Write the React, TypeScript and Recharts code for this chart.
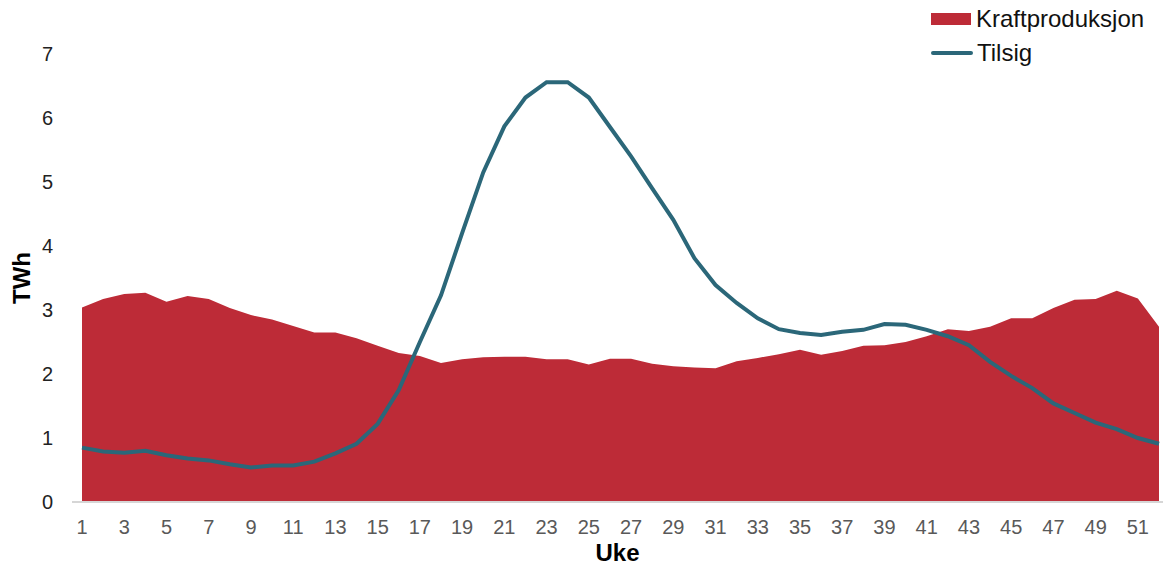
import { ComposedChart, Area, Line, XAxis, YAxis } from "recharts";

const weeks = [
  1, 2, 3, 4, 5, 6, 7, 8, 9, 10, 11, 12, 13, 14, 15, 16, 17, 18, 19, 20, 21, 22, 23, 24, 25, 26,
  27, 28, 29, 30, 31, 32, 33, 34, 35, 36, 37, 38, 39, 40, 41, 42, 43, 44, 45, 46, 47, 48, 49, 50,
  51, 52,
];

// TWh per uke
const kraftproduksjon = [
  3.04, 3.17, 3.25, 3.27, 3.13, 3.22, 3.17, 3.03, 2.92, 2.85, 2.75, 2.65, 2.65, 2.56, 2.44, 2.33,
  2.28, 2.17, 2.23, 2.26, 2.27, 2.27, 2.23, 2.23, 2.15, 2.24, 2.24, 2.16, 2.12, 2.1, 2.09, 2.2,
  2.25, 2.31, 2.38, 2.3, 2.36, 2.44, 2.45, 2.5, 2.59, 2.7, 2.67, 2.74, 2.87, 2.87, 3.03, 3.16,
  3.17, 3.3, 3.18, 2.74,
];

const tilsig = [
  0.85, 0.79, 0.77, 0.8, 0.73, 0.68, 0.65, 0.59, 0.54, 0.57, 0.57, 0.63, 0.76, 0.91, 1.22, 1.75,
  2.5, 3.23, 4.2, 5.15, 5.87, 6.32, 6.56, 6.56, 6.32, 5.86, 5.4, 4.9, 4.41, 3.81, 3.39, 3.11, 2.87,
  2.7, 2.64, 2.61, 2.66, 2.69, 2.78, 2.77, 2.69, 2.59, 2.45, 2.19, 1.97, 1.78, 1.54, 1.39, 1.24,
  1.14, 1.0, 0.91,
];

const xTicks = [1, 3, 5, 7, 9, 11, 13, 15, 17, 19, 21, 23, 25, 27, 29, 31, 33, 35, 37, 39, 41, 43, 45, 47, 49, 51];
const yTicks = [0, 1, 2, 3, 4, 5, 6, 7];

const RED = "#bd2b37";
const TEAL = "#2b6779";
const FONT = "'Liberation Sans', Arial, sans-serif";

const data = weeks.map((uke, i) => ({
  uke,
  kraft: kraftproduksjon[i],
  tilsig: tilsig[i],
}));

// legend sits top right, outside the plot area
function ChartLegend() {
  return (
    <div
      style={{
        position: "absolute",
        left: 931,
        top: 2,
        fontFamily: FONT,
        fontSize: 24,
        color: "#111",
      }}
    >
      <div style={{ display: "flex", alignItems: "center", height: 34 }}>
        <div style={{ width: 40, height: 12, background: RED, marginRight: 5 }} />
        <span>Kraftproduksjon</span>
      </div>
      <div style={{ display: "flex", alignItems: "center", height: 34 }}>
        <div
          style={{ width: 42, height: 4, borderRadius: 2, background: TEAL, marginRight: 4 }}
        />
        <span>Tilsig</span>
      </div>
    </div>
  );
}

export default function App() {
  return (
    <div style={{ position: "absolute", left: 0, top: 0, width: 1164, height: 568, background: "#fff" }}>
      <ComposedChart
        width={1164}
        height={568}
        data={data}
        margin={{ top: 54, right: 1, bottom: 0, left: 0 }}
      >
        <XAxis
          dataKey="uke"
          type="number"
          domain={[1, 52]}
          ticks={xTicks}
          interval={0}
          padding={{ left: 10, right: 4 }}
          height={66}
          tickLine={false}
          tickMargin={12}
          axisLine={{ stroke: "#d6d6d6", strokeWidth: 2 }}
          tick={{ fill: "#595959", fontSize: 20, fontFamily: FONT }}
          label={{
            value: "Uke",
            position: "insideBottom",
            offset: 7,
            fill: "#000",
            fontSize: 24,
            fontWeight: "bold",
            fontFamily: FONT,
          }}
        />
        <YAxis
          domain={[0, 7]}
          ticks={yTicks}
          width={72}
          axisLine={false}
          tickLine={false}
          tickMargin={13}
          tick={{ fill: "#222", fontSize: 20, fontFamily: FONT }}
          label={{
            value: "TWh",
            angle: -90,
            position: "insideLeft",
            offset: 21,
            textAnchor: "middle",
            fill: "#000",
            fontSize: 24,
            fontWeight: "bold",
            fontFamily: FONT,
          }}
        />
        <Area
          type="linear"
          dataKey="kraft"
          name="Kraftproduksjon"
          fill={RED}
          fillOpacity={1}
          stroke="none"
          isAnimationActive={false}
        />
        <Line
          type="linear"
          dataKey="tilsig"
          name="Tilsig"
          stroke={TEAL}
          strokeWidth={4}
          dot={false}
          isAnimationActive={false}
        />
      </ComposedChart>
      <ChartLegend />
    </div>
  );
}
